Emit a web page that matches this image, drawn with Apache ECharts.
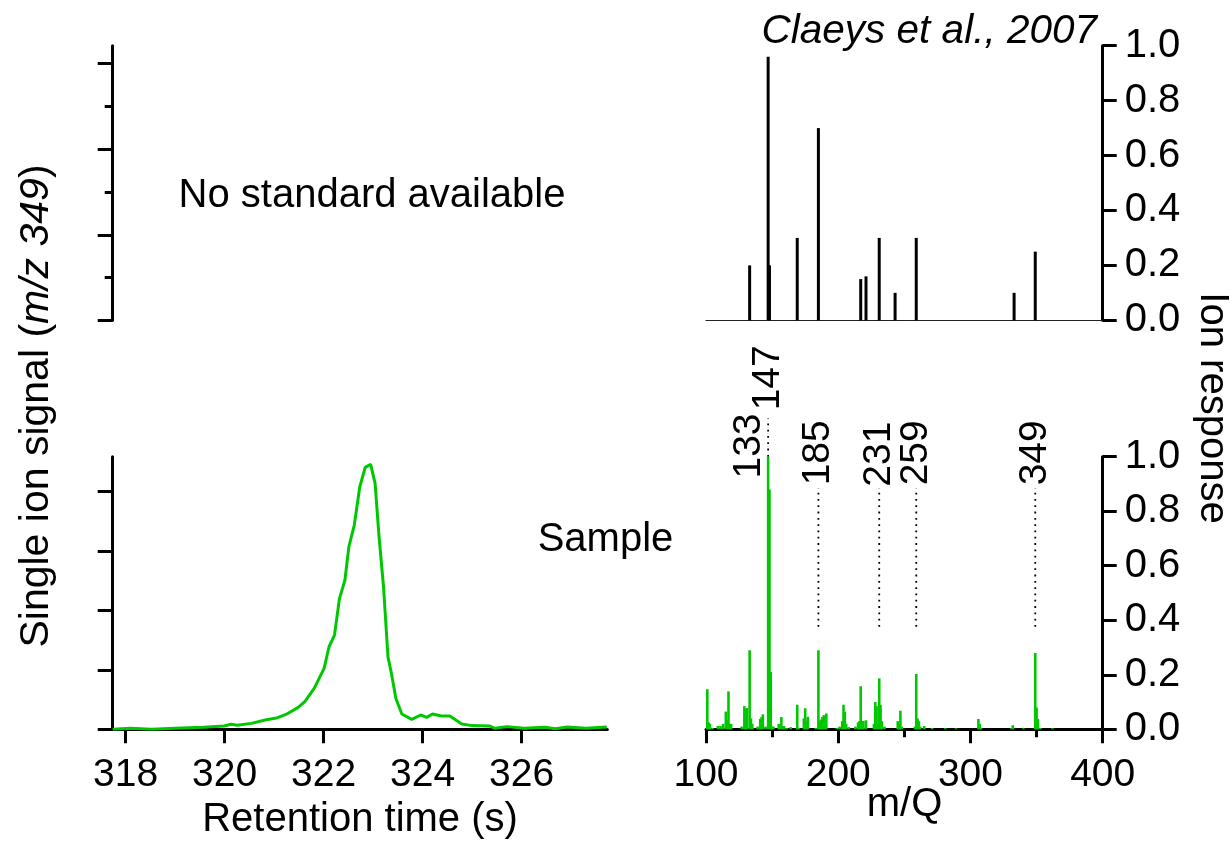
<!DOCTYPE html>
<html><head><meta charset="utf-8">
<script src="https://cdn.jsdelivr.net/npm/echarts@6/dist/echarts.min.js"></script>
<style>html,body{margin:0;padding:0;background:#fff}#c{width:1231px;height:844px}</style>
</head><body><div id="c"></div>
<script>
// ---- data ----
const chromTime = [317.74,318.10,318.52,319.00,319.57,319.99,320.13,320.26,320.54,320.82,321.07,321.24,321.48,321.62,321.81,322.01,322.11,322.22,322.32,322.43,322.51,322.62,322.73,322.84,322.95,323.04,323.12,323.21,323.30,323.37,323.46,323.58,323.78,323.96,324.08,324.20,324.38,324.55,324.79,325.00,325.35,325.46,325.70,326.05,326.47,326.68,326.92,327.30,327.72];
const chromSignal = [0.00,0.017,0.00,0.017,0.034,0.056,0.084,0.067,0.10,0.157,0.196,0.25,0.365,0.466,0.69,1.026,1.39,1.587,2.20,2.51,3.07,3.44,4.08,4.41,4.46,4.14,3.24,2.40,1.22,0.94,0.52,0.258,0.168,0.241,0.20,0.258,0.224,0.224,0.09,0.062,0.056,0.017,0.045,0.017,0.034,0.011,0.039,0.017,0.039];

const refMz  = [133,147,148,169,185,217,221,231,243,259,333,349];
const refInt = [0.20,0.96,0.20,0.30,0.70,0.15,0.16,0.30,0.10,0.30,0.10,0.25];

const sampleMz  = [101,102,103,105,109,111,113,115,116,117,118,119,127,129,130,131,133,134,135,139,141,142,143,145,147,148,149,150,151,155,157,158,159,161,164,169,170,174,175,176,177,183,185,186,187,188,189,190,191,199,201,203,204,205,206,208,213,215,216,217,218,219,221,227,228,229,230,231,232,233,235,245,246,247,248,258,259,260,261,262,265,271,281,289,306,307,308,331,332,340,349,350,351,353,362];
const sampleInt = [0.147,0.025,0.02,0.005,0.012,0.012,0.02,0.065,0.035,0.139,0.02,0.02,0.01,0.085,0.075,0.078,0.29,0.04,0.02,0.01,0.038,0.045,0.055,0.01,1.0,0.88,0.21,0.01,0.01,0.02,0.045,0.01,0.012,0.005,0.008,0.09,0.005,0.04,0.077,0.03,0.046,0.005,0.29,0.03,0.036,0.045,0.052,0.01,0.058,0.005,0.01,0.03,0.09,0.065,0.02,0.008,0.01,0.025,0.03,0.158,0.02,0.031,0.033,0.02,0.10,0.085,0.02,0.187,0.09,0.03,0.01,0.03,0.02,0.068,0.01,0.01,0.203,0.04,0.03,0.01,0.012,0.005,0.004,0.004,0.038,0.02,0.006,0.004,0.015,0.004,0.28,0.08,0.038,0.005,0.004];

// peak annotations (m/z label, label foot, dotted-line from/to, in ion-response units)
const annotMz        = [133, 147, 185, 231, 259, 349];
const annotLabelFoot = [0.92, 1.17, 0.895, 0.89, 0.895, 0.895];
const annotLineFrom  = [null, 1.0, 0.376, 0.376, 0.376, 0.376];
const annotLineTo    = [null, 1.14, 0.885, 0.885, 0.885, 0.885];

const rtTicks = [318, 320, 322, 324, 326];
const mzTicks = [100, 200, 300, 400];
const mzMinorTicks = [150, 250, 350];
const respTicks = [0, 0.2, 0.4, 0.6, 0.8, 1.0];
const stdMajorTicks = [0, 1, 2, 3];
const stdMinorTicks = [0.5, 1.5, 2.5];
const sampleTicks = [0, 1, 2, 3, 4];

// ---- chart ----
const FONT = 'Liberation Sans, Arial, Helvetica, sans-serif';
const GREEN = '#00c800';
const AX = {color: '#000', width: 3};

const chart = echarts.init(document.getElementById('c'), null, {renderer: 'canvas'});

function yAxisBase(grid, min, max, ticks, len, extra) {
  return Object.assign({
    type: 'value', gridIndex: grid, min: min, max: max, position: 'left',
    axisLine: {show: true, lineStyle: AX},
    axisTick: {show: true, customValues: ticks, length: len, lineStyle: AX},
    axisLabel: {show: false}, splitLine: {show: false}
  }, extra || {});
}
const respAxis = (grid) => ({
  type: 'value', gridIndex: grid, min: 0, max: 1, position: 'right',
  axisLine: {show: true, lineStyle: AX},
  axisTick: {show: true, customValues: respTicks, length: 14, lineStyle: AX},
  axisLabel: {show: true, customValues: respTicks, margin: 22, color: '#000', fontSize: 40, fontFamily: FONT,
              formatter: v => v.toFixed(1)},
  splitLine: {show: false}
});

const option = {
  animation: false,
  backgroundColor: '#fff',
  grid: [
    {left: 112.7, top: 45.7, width: 494.6, height: 274.6},
    {left: 112.7, top: 456.7, width: 494.6, height: 272.6},
    {left: 706, top: 45.7, width: 396.7, height: 274.6},
    {left: 706, top: 456.7, width: 396.7, height: 272.6},
    {left: 706, top: 347.66, width: 396.7, height: 381.64}
  ],
  xAxis: [
    {type: 'value', gridIndex: 0, min: 0, max: 1, show: false},
    {type: 'value', gridIndex: 1, min: 317.74, max: 327.73, position: 'bottom',
     axisLine: {show: true, lineStyle: AX},
     axisTick: {show: true, customValues: rtTicks, length: 14, lineStyle: AX},
     axisLabel: {show: true, customValues: rtTicks, margin: 26, color: '#000', fontSize: 39, fontFamily: FONT},
     splitLine: {show: false}},
    {type: 'value', gridIndex: 2, min: 100, max: 400, position: 'bottom',
     axisLine: {show: true, lineStyle: {color: '#222', width: 1.2}},
     axisTick: {show: false}, axisLabel: {show: false}, splitLine: {show: false}},
    {type: 'value', gridIndex: 3, min: 100, max: 400, position: 'bottom',
     axisLine: {show: true, lineStyle: AX},
     axisTick: {show: true, customValues: mzTicks, length: 14, lineStyle: AX},
     axisLabel: {show: true, customValues: mzTicks, margin: 26, color: '#000', fontSize: 39, fontFamily: FONT},
     splitLine: {show: false}},
    {type: 'value', gridIndex: 3, min: 100, max: 400, position: 'bottom', offset: 0,
     axisLine: {show: false},
     axisTick: {show: true, customValues: mzMinorTicks, length: 8, lineStyle: AX},
     axisLabel: {show: false}, splitLine: {show: false}},
    {type: 'value', gridIndex: 4, min: 100, max: 400, show: false}
  ],
  yAxis: [
    yAxisBase(0, 0, 3.21, stdMajorTicks, 15),
    yAxisBase(0, 0, 3.21, stdMinorTicks, 8, {axisLine: {show: false}}),
    yAxisBase(1, 0, 4.59, sampleTicks, 15),
    respAxis(2),
    respAxis(3),
    {type: 'value', gridIndex: 4, min: 0, max: 1.4, show: false}
  ],
  series: [
    {type: 'line', xAxisIndex: 1, yAxisIndex: 2, showSymbol: false, smooth: false,
     lineStyle: {color: GREEN, width: 3}, itemStyle: {color: GREEN},
     data: chromTime.map((t, i) => [t, chromSignal[i]])},
    {type: 'bar', xAxisIndex: 2, yAxisIndex: 3, barWidth: 3, itemStyle: {color: '#000'},
     data: refMz.map((m, i) => [m, refInt[i]])},
    {type: 'bar', xAxisIndex: 3, yAxisIndex: 4, barWidth: 2.6, itemStyle: {color: GREEN},
     data: sampleMz.map((m, i) => [m, sampleInt[i]])},
    {type: 'custom', xAxisIndex: 5, yAxisIndex: 5, silent: true,
     data: annotMz.map((m, i) => [m, annotLabelFoot[i], annotLineFrom[i] == null ? NaN : annotLineFrom[i], annotLineTo[i] == null ? NaN : annotLineTo[i]]),
     renderItem: function (params, api) {
       const m = api.value(0);
       const foot = api.coord([m, api.value(1)]);
       const children = [];
       const from = api.value(2), to = api.value(3);
       if (!isNaN(from)) {
         const p1 = api.coord([m, from]), p2 = api.coord([m, to]);
         children.push({type: 'line', shape: {x1: p1[0], y1: p1[1], x2: p2[0], y2: p2[1]},
           style: {stroke: '#000', lineWidth: 1.8, lineDash: [1.8, 4.5]}});
       }
       children.push({type: 'text', x: foot[0], y: foot[1], rotation: Math.PI / 2,
         style: {text: String(m), align: 'left', verticalAlign: 'middle', fill: '#000',
                 fontSize: 39, fontFamily: FONT}});
       return {type: 'group', children: children};
     }}
  ],
  graphic: [
    {type: 'text', x: 372, y: 196, style: {text: 'No standard available', align: 'center', verticalAlign: 'middle', fill: '#000', fontSize: 40, fontFamily: FONT}},
    {type: 'text', x: 605.5, y: 540, style: {text: 'Sample', align: 'center', verticalAlign: 'middle', fill: '#000', fontSize: 40, fontFamily: FONT}},
    {type: 'text', x: 1097, y: 32, style: {text: 'Claeys et al., 2007', align: 'right', verticalAlign: 'middle', fill: '#000', fontSize: 40.5, fontStyle: 'italic', fontFamily: FONT}},
    {type: 'text', x: 360, y: 820, style: {text: 'Retention time (s)', align: 'center', verticalAlign: 'middle', fill: '#000', fontSize: 40, fontFamily: FONT}},
    {type: 'text', x: 904.5, y: 805, style: {text: 'm/Q', align: 'center', verticalAlign: 'middle', fill: '#000', fontSize: 40, fontFamily: FONT}},
    {type: 'text', x: 37, y: 406, rotation: Math.PI / 2,
     style: {text: 'Single ion signal ({i|m/z 349})', align: 'center', verticalAlign: 'middle', fill: '#000', fontSize: 41, fontFamily: FONT,
             rich: {i: {fontStyle: 'italic', fontSize: 41, fontFamily: FONT, fill: '#000'}}}},
    {type: 'text', x: 1212, y: 408, rotation: -Math.PI / 2,
     style: {text: 'Ion response', align: 'center', verticalAlign: 'middle', fill: '#000', fontSize: 40, fontFamily: FONT}}
  ]
};
chart.setOption(option);
</script>
</body></html>
